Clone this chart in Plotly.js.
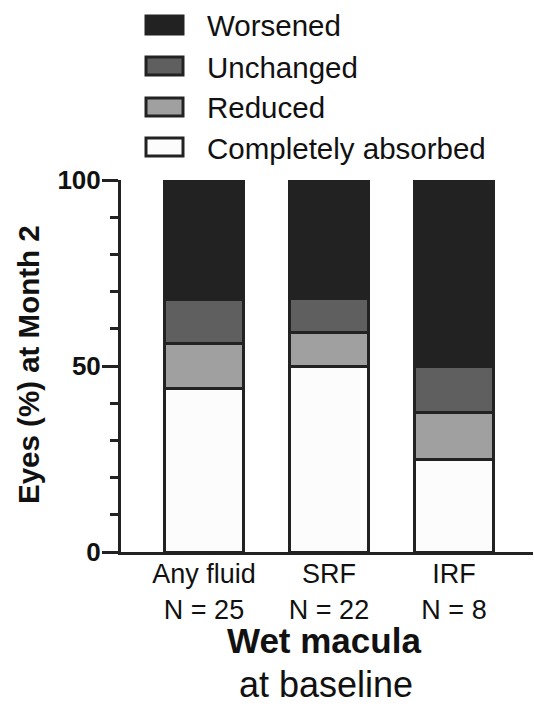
<!DOCTYPE html>
<html>
<head>
<meta charset="utf-8">
<script src="https://cdn.plot.ly/plotly-3.0.1.min.js"></script>
<style>html,body{margin:0;padding:0;background:#fff;}#chart{width:534px;height:709px;}</style>
</head>
<body>
<div id="chart"></div>
<script>
// ---- data ----
const categories = ["Any fluid", "SRF", "IRF"];
const groupN = [25, 22, 8];
const seriesNames = ["Completely absorbed", "Reduced", "Unchanged", "Worsened"];
const absorbed = [44, 50, 25];
const reduced = [12, 9.1, 12.5];
const unchanged = [12, 9.1, 12.5];
const worsened = [32, 31.8, 50];
const yTickVals = [0, 50, 100];
const yTickText = ["0", "50", "100"];

// ---- styling ----
const fills = ["#fcfcfc", "#a0a0a0", "#5f5f5f", "#222222"];
const edge = "#222222";
const FONT = "Liberation Sans, Arial, Helvetica, sans-serif";
const series = [absorbed, reduced, unchanged, worsened];

const traces = series.map((vals, i) => ({
  type: "bar",
  name: seriesNames[i],
  x: categories,
  y: vals,
  width: 0.63,
  marker: { color: fills[i], line: { color: edge, width: 3 } },
  showlegend: false,
  hoverinfo: "skip"
}));

// plot area in pixels
const L = 121, R = 533, T = 180, B = 552;
const px = x => (x - L) / (R - L);
const py = y => (B - y) / (B - T);

const shapes = [];
const annotations = [];
// legend (top-down order: Worsened ... Completely absorbed)
const legendRows = [3, 2, 1, 0];
const rowCenters = [25, 66, 107, 147];
legendRows.forEach((si, k) => {
  const cy = rowCenters[k];
  shapes.push({
    type: "rect", xref: "paper", yref: "paper",
    x0: px(146), x1: px(183), y0: py(cy - 9), y1: py(cy + 9),
    fillcolor: fills[si], line: { color: edge, width: 3 }
  });
  annotations.push({
    xref: "paper", yref: "paper", x: px(205), y: py(cy + 1),
    xanchor: "left", yanchor: "middle", showarrow: false,
    text: seriesNames[si], font: { family: FONT, size: 29.5, color: "#111" }
  });
});

// y title
annotations.push({
  xref: "paper", yref: "paper", x: px(28), y: py(365),
  xanchor: "center", yanchor: "middle", showarrow: false, textangle: -90,
  text: "<b>Eyes (%) at Month 2</b>", font: { family: FONT, size: 29.5, color: "#111" }
});
// x title
annotations.push({
  xref: "paper", yref: "paper", x: px(324), y: py(640),
  xanchor: "center", yanchor: "middle", showarrow: false,
  text: "<b>Wet macula</b>", font: { family: FONT, size: 35, color: "#111" }
});
annotations.push({
  xref: "paper", yref: "paper", x: px(326), y: py(684),
  xanchor: "center", yanchor: "middle", showarrow: false,
  text: "at baseline", font: { family: FONT, size: 36, color: "#111" }
});

const layout = {
  width: 534, height: 709,
  margin: { l: L, r: 534 - R, t: T, b: 709 - B, pad: 0 },
  paper_bgcolor: "#fff", plot_bgcolor: "#fff",
  barmode: "stack",
  showlegend: false,
  font: { family: FONT, color: "#111" },
  xaxis: {
    type: "category",
    range: [-0.664, 2.632],
    tickvals: categories,
    ticktext: categories.map((c, i) => c + "<br>N = " + groupN[i]),
    tickfont: { family: FONT, size: 27, color: "#111" },
    ticks: "", showgrid: false, zeroline: false,
    showline: true, linecolor: edge, linewidth: 3,
    ticklabelstandoff: -4
  },
  yaxis: {
    range: [0, 100],
    tickvals: yTickVals, ticktext: yTickText,
    tickfont: { family: FONT, size: 26, color: "#111", weight: "bold" },
    ticks: "outside", ticklen: 16, tickwidth: 3, tickcolor: edge,
    minor: { dtick: 10, ticks: "outside", ticklen: 8, tickwidth: 3, tickcolor: edge, showgrid: false },
    showgrid: false, zeroline: false,
    showline: true, linecolor: edge, linewidth: 3,
    ticklabelstandoff: -4
  },
  shapes: shapes,
  annotations: annotations
};

Plotly.newPlot("chart", traces, layout, { staticPlot: true, displayModeBar: false });
</script>
</body>
</html>
